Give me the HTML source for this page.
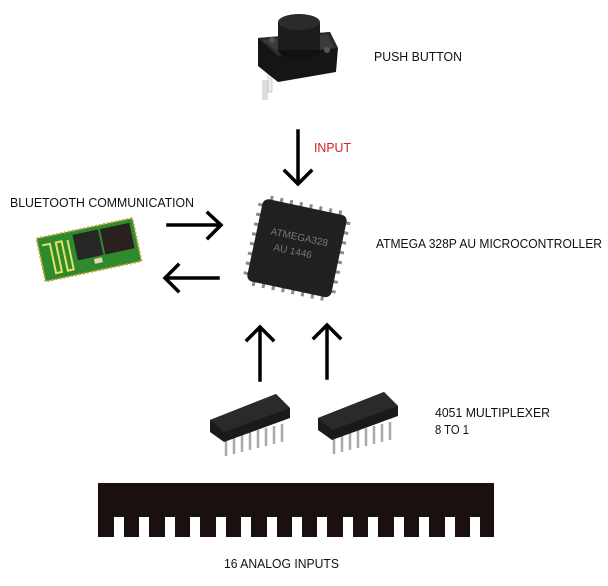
<!DOCTYPE html>
<html><head><meta charset="utf-8"><style>
html,body{margin:0;padding:0;background:#fff;}
svg{display:block;}
text{font-family:"Liberation Sans",sans-serif;font-size:12.5px;fill:#111;}
</style></head><body>
<svg width="608" height="586" viewBox="0 0 608 586" xmlns="http://www.w3.org/2000/svg">
<!-- push button -->
<g>
<rect x="262" y="80" width="6" height="20" fill="#ddd"/>
<rect x="268" y="66" width="4" height="26" fill="#eee" stroke="#aaa" stroke-width="0.5"/>
<polygon points="258,38 330,32 338,48 336,72 278,82 258,66" fill="#151515"/>
<polygon points="258,38 330,32 338,48 278,56" fill="#2a2a2a"/>
<polygon points="262,40 328,35 334,48 280,54" fill="#3a3a3a"/>
<ellipse cx="299" cy="50" rx="21" ry="9" fill="#111"/>
<rect x="278" y="22" width="42" height="28" fill="#1c1c1c"/>
<ellipse cx="299" cy="22" rx="21" ry="8" fill="#2b2b2b"/>
<circle cx="272" cy="40" r="3" fill="#555"/>
<circle cx="327" cy="50" r="3" fill="#555"/>
</g>
<text x="374" y="61" textLength="88" lengthAdjust="spacingAndGlyphs">PUSH BUTTON</text>
<text x="314" y="152" style="fill:#d42020" textLength="37" lengthAdjust="spacingAndGlyphs">INPUT</text>
<text x="10" y="207" textLength="184" lengthAdjust="spacingAndGlyphs">BLUETOOTH COMMUNICATION</text>
<text x="376" y="248" textLength="226" lengthAdjust="spacingAndGlyphs">ATMEGA 328P AU MICROCONTROLLER</text>
<text x="435" y="417" textLength="115" lengthAdjust="spacingAndGlyphs">4051 MULTIPLEXER</text>
<text x="435" y="434" textLength="34" lengthAdjust="spacingAndGlyphs">8 TO 1</text>
<text x="224" y="568" textLength="115" lengthAdjust="spacingAndGlyphs">16 ANALOG INPUTS</text>
<!-- arrows -->
<g stroke="#000" stroke-width="3.5" fill="none" stroke-linecap="square">
<line x1="298" y1="131" x2="298" y2="183"/>
<polyline points="285,171 298,184 311,171"/>
<line x1="168" y1="225" x2="220" y2="225"/>
<polyline points="208,213 221,225 208,238"/>
<line x1="166" y1="278" x2="218" y2="278"/>
<polyline points="178,265 165,278 178,291"/>
<line x1="260" y1="328" x2="260" y2="380"/>
<polyline points="247,340 260,327 273,340"/>
<line x1="327" y1="326" x2="327" y2="378"/>
<polyline points="314,338 327,325 340,338"/>
</g>
<!-- bluetooth module -->
<g transform="rotate(-12 88 250)">
<rect x="40" y="228" width="98" height="44" fill="#2d8a2d"/>
<rect x="40" y="228" width="98" height="44" fill="none" stroke="#c8a030" stroke-width="2" stroke-dasharray="2 2"/>
<rect x="76" y="232" width="26" height="26" fill="#262626"/>
<rect x="104" y="232" width="30" height="26" fill="#2a2020"/>
<path d="M44 236 h8 v30 h6 v-30 h6 v30 h6 v-30" stroke="#e8e060" stroke-width="2" fill="none"/>
<rect x="92" y="260" width="8" height="5" fill="#e8d8b0"/>
</g>
<!-- ATmega -->
<g transform="rotate(12 296 248)">
<g stroke="#8a8a8a" stroke-width="3">
<path d="M262 208 v-6 M272 208 v-6 M282 208 v-6 M292 208 v-6 M302 208 v-6 M312 208 v-6 M322 208 v-6 M332 208 v-6"/>
<path d="M262 288 v6 M272 288 v6 M282 288 v6 M292 288 v6 M302 288 v6 M312 288 v6 M322 288 v6 M332 288 v6"/>
<path d="M256 213 h-6 M256 223 h-6 M256 233 h-6 M256 243 h-6 M256 253 h-6 M256 263 h-6 M256 273 h-6 M256 283 h-6"/>
<path d="M338 213 h6 M338 223 h6 M338 233 h6 M338 243 h6 M338 253 h6 M338 263 h6 M338 273 h6 M338 283 h6"/>
</g>
<rect x="254" y="206" width="86" height="84" rx="6" fill="#202020"/>
<text x="268" y="240" style="fill:#777;font-size:10px">ATMEGA328</text>
<text x="274" y="255" style="fill:#777;font-size:10px">AU 1446</text>
</g>
<!-- DIP chips -->
<g>
<g stroke="#aaa" stroke-width="2.5">
<path d="M226 438 v18 M234 436 v18 M242 434 v18 M250 432 v18 M258 430 v18 M266 428 v18 M274 426 v18 M282 424 v18"/>
<path d="M334 436 v18 M342 434 v18 M350 432 v18 M358 430 v18 M366 428 v18 M374 426 v18 M382 424 v18 M390 422 v18"/>
</g>
<polygon points="210,420 276,394 290,408 290,418 224,442 210,432" fill="#1a1a1a"/>
<polygon points="210,420 276,394 290,408 224,432" fill="#2a2a2a"/>
<polygon points="318,418 384,392 398,406 398,416 332,440 318,430" fill="#1a1a1a"/>
<polygon points="318,418 384,392 398,406 332,430" fill="#2a2a2a"/>
</g>
<!-- comb -->
<path fill="#1a1010" d="M98 483 H494 V537 H480 V517 H470 V537 H455 V517 H445 V537 H429 V517 H419 V537 H404 V517 H394 V537 H378 V517 H368 V537 H353 V517 H343 V537 H327 V517 H317 V537 H302 V517 H292 V537 H277 V517 H267 V537 H251 V517 H241 V537 H226 V517 H216 V537 H200 V517 H190 V537 H175 V517 H165 V537 H149 V517 H139 V537 H124 V517 H114 V537 H98 Z"/>
</svg>
</body></html>
